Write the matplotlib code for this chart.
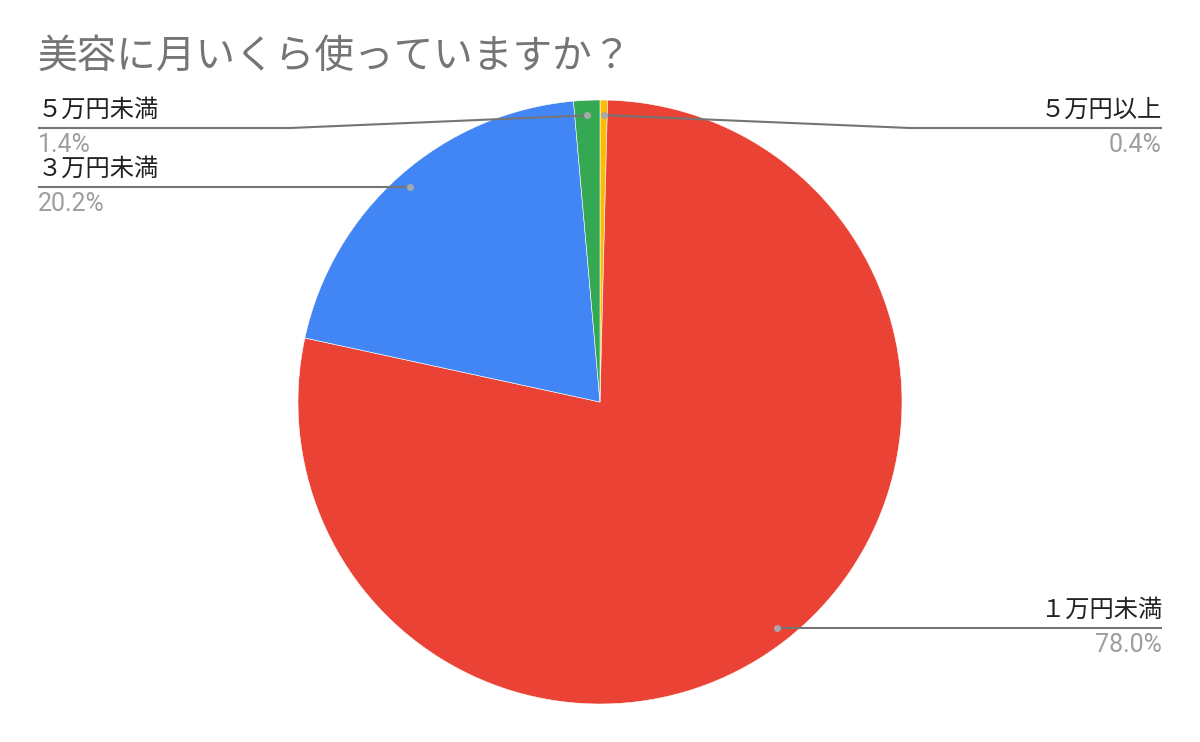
#!/usr/bin/env python3
"""美容に月いくら使っていますか？ の円グラフ."""

import matplotlib

matplotlib.use("Agg")
import matplotlib.pyplot as plt  # noqa: E402
import numpy as np  # noqa: E402

plt.rcParams["font.family"] = ["Noto Sans CJK JP", "DejaVu Sans"]

title = "美容に月いくら使っていますか？"
labels = ["５万円以上", "１万円未満", "３万円未満", "５万円未満"]
shares = [0.4, 78.0, 20.2, 1.4]
colors = ["#fbbc04", "#ea4335", "#4285f4", "#34a853"]

W, H = 1200, 742
cx, cy, R = 600, H - 402, 302

fig = plt.figure(figsize=(12, 7.42), dpi=100)
ax = fig.add_axes([0, 0, 1, 1])
wedges, _ = ax.pie(
    shares,
    colors=colors,
    startangle=90,
    counterclock=False,
    center=(cx, cy),
    radius=R,
    wedgeprops=dict(edgecolor="white", linewidth=0.4),
)
ax.set_xlim(0, W)
ax.set_ylim(0, H)
ax.set_aspect("equal")
ax.axis("off")

# label layout: (side, line y in screen px, elbow x)
layout = {
    "５万円以上": ("right", 128, 910),
    "１万円未満": ("right", 628, None),
    "３万円未満": ("left", 187, None),
    "５万円未満": ("left", 128, 290),
}
line_c = "#757575"
for w, lab, val in zip(wedges, labels, shares):
    mid = np.deg2rad((w.theta1 + w.theta2) / 2)
    dx = cx + 0.95 * R * np.cos(mid)
    dy = cy + 0.95 * R * np.sin(mid)
    side, ly, elbow = layout[lab]
    ly = H - ly
    end = 1162 if side == "right" else 38
    xs = [dx] + ([elbow] if elbow else []) + [end]
    ys = [dy] + ([ly] if elbow else []) + [ly]
    if not elbow:
        ys[0] = ly
    ax.plot(xs, ys, color=line_c, lw=1.5, solid_capstyle="butt", zorder=3)
    ax.plot(dx, ys[0], "o", ms=5, color="#a8a8a8", mec="none", zorder=4)
    ha = "right" if side == "right" else "left"
    ax.text(end, ly + 5, lab, ha=ha, va="bottom", fontsize=17.5, color="#222222")
    ax.text(end, ly - 5, f"{val:.1f}%", ha=ha, va="top", fontsize=18,
            color="#9e9e9e", family=["Roboto", "DejaVu Sans"])

fig.text(38 / W, 1 - 57 / H, title, ha="left", va="center", fontsize=28.5, color="#757575")

fig.savefig("out.png", dpi=100)
